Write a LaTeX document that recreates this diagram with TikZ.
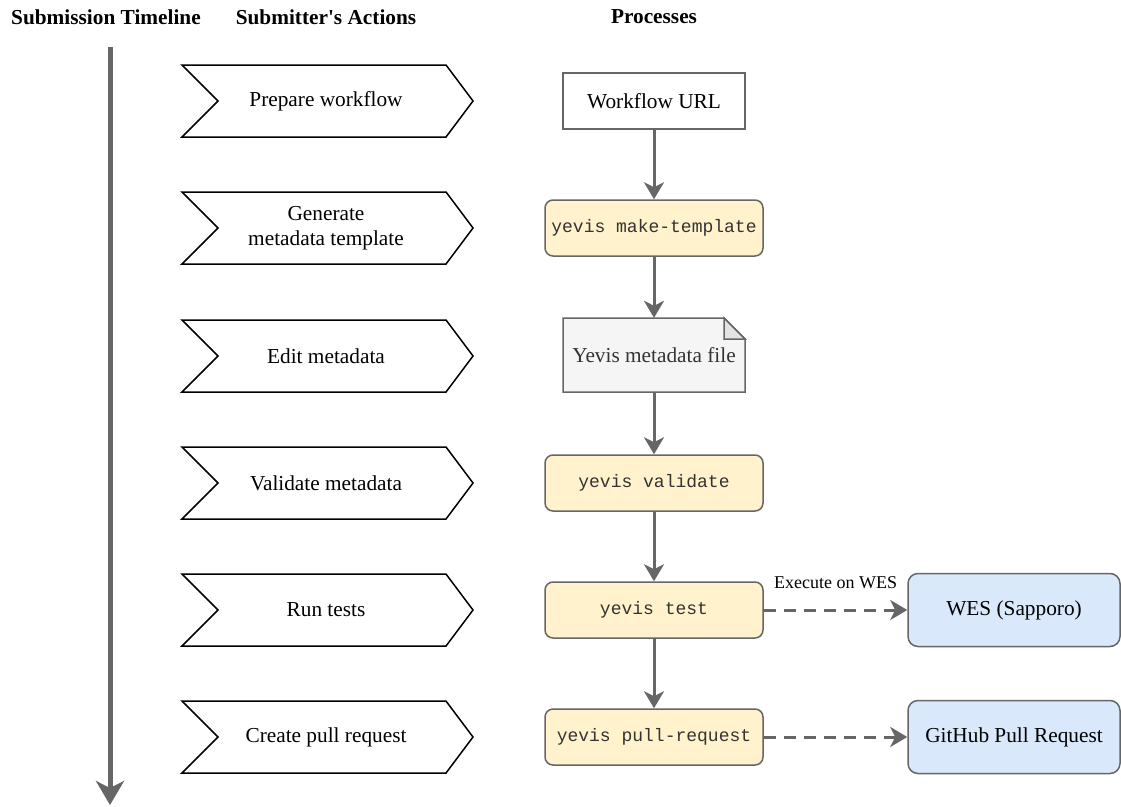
\documentclass[tikz,border=0pt]{standalone}
\usepackage{fontspec}
\setmainfont{Liberation Serif}[Ligatures=TeXOff]
\setmonofont{Liberation Mono}
\usetikzlibrary{arrows.meta}
\definecolor{arrgray}{HTML}{666666}
\definecolor{yelfill}{HTML}{FFF2CC}
\definecolor{bluefill}{HTML}{DAE8FC}
\definecolor{filefill}{HTML}{F5F5F5}
\definecolor{foldfill}{HTML}{E3E3E3}
\definecolor{filetext}{HTML}{333333}
\newcommand\mybody{\fontsize{21.3}{25}\selectfont}
\newcommand\mymono{\fontsize{18}{22}\selectfont\ttfamily}
\newcommand\mysmall{\fontsize{18}{21}\selectfont}
\newcommand\mychev[3]{%
  \draw[chev] (182,#2-36) -- (446,#2-36) -- (473,#2) -- (446,#2+36) -- (182,#2+36) -- (218,#2) -- cycle;
  \node[chevtext] (#1) at (326,#2) {#3};}
\begin{document}
\begin{tikzpicture}[x=1pt,y=-1pt,
  chev/.style={draw=black,line width=1.5pt,fill=white,line join=miter},
  chevtext/.style={font=\mybody,align=center,text=black},
  header/.style={font=\mybody\bfseries,text=black},
  plainbox/.style={draw=arrgray,line width=1.5pt,fill=white,font=\mybody,minimum width=182pt,minimum height=56pt,inner sep=0pt},
  yelbox/.style={draw=arrgray,line width=1.5pt,fill=yelfill,rounded corners=8pt,font=\mymono,text=filetext,minimum width=218pt,minimum height=56pt,inner sep=0pt},
  bluebox/.style={draw=arrgray,line width=1.5pt,fill=bluefill,rounded corners=10pt,font=\mybody,minimum width=212pt,minimum height=73pt,inner sep=0pt},
  flow/.style={draw=arrgray,line width=3pt,-{Stealth[length=17pt,width=20pt,inset=5pt]}},
  dflow/.style={flow,dash pattern=on 12pt off 8pt},
  timeline/.style={draw=arrgray,line width=5pt,-{Stealth[length=24pt,width=28pt,inset=7pt]}}
]
\useasboundingbox (0,0) rectangle (1121,806);
% headers
\node[header] (h1) at (106,17) {Submission Timeline};
\node[header] (h2) at (326,17) {Submitter's Actions};
\node[header] (h3) at (654,17) {Processes};
% timeline
\coordinate (tlstart) at (110,47);
\coordinate (tlend) at (110,805);
\draw[timeline] (tlstart) -- (tlend);
% chevrons
\mychev{c1}{101}{Prepare workflow}
\mychev{c2}{228}{Generate\\metadata template}
\mychev{c3}{356}{Edit metadata}
\mychev{c4}{483}{Validate metadata}
\mychev{c5}{610}{Run tests}
\mychev{c6}{737}{Create pull request}
% processes
\node[plainbox] (url) at (654,101) {Workflow URL};
\node[yelbox] (mt) at (654,228) {yevis make-template};
\draw[draw=arrgray,line width=1.5pt,fill=filefill,line join=miter]
  (563,318) -- (724,318) -- (745,339) -- (745,392) -- (563,392) -- cycle;
\draw[draw=arrgray,line width=1.5pt,fill=foldfill,line join=miter]
  (724,318) -- (724,339) -- (745,339) -- cycle;
\node[minimum width=182pt,minimum height=74pt,inner sep=0pt,font=\mybody,text=filetext] (file) at (654,355) {Yevis metadata file};
\node[yelbox] (val) at (654,483) {yevis validate};
\node[yelbox] (test) at (654,610) {yevis test};
\node[yelbox] (pr) at (654,737) {yevis pull-request};
\node[bluebox] (wes) at (1014,610) {WES (Sapporo)};
\node[bluebox] (gh) at (1014,737) {GitHub Pull Request};
% connectors
\draw[flow] (url) -- (mt);
\draw[flow] (mt) -- (file);
\draw[flow] (file) -- (val);
\draw[flow] (val) -- (test);
\draw[flow] (test) -- (pr);
\draw[dflow] (test) -- node[midway,yshift=27pt,font=\mysmall,text=black] (lbl) {Execute on WES} (wes);
\draw[dflow] (pr) -- (gh);
\end{tikzpicture}
\end{document}
